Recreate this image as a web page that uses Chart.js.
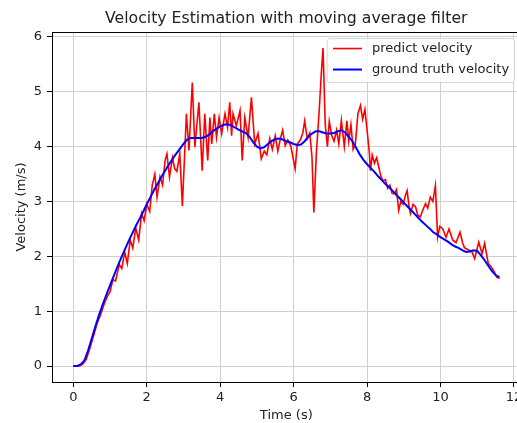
<!DOCTYPE html>
<html>
<head>
<meta charset="utf-8">
<script src="https://cdn.jsdelivr.net/npm/chart.js@4/dist/chart.umd.min.js"></script>
<style>
    html, body { margin: 0; padding: 0; overflow: hidden; background: #fff; }
    #chart { display: block; }
</style>
</head>
<body>
<canvas id="chart" width="530" height="423" style="width:530px;height:423px"></canvas>
<script>
// Ground truth time stamps (s)
var gtTimes = [
    0.0, 0.1, 0.2, 0.3, 0.4, 0.5, 0.6, 0.7, 0.8, 0.9,
    1.0, 1.1, 1.2, 1.3, 1.4, 1.5, 1.6, 1.7, 1.8, 1.9,
    2.0, 2.1, 2.2, 2.3, 2.4, 2.5, 2.6, 2.7, 2.8, 2.9,
    3.0, 3.1, 3.2, 3.3, 3.4, 3.5, 3.6, 3.7, 3.8, 3.9,
    4.0, 4.1, 4.2, 4.3, 4.4, 4.5, 4.6, 4.7, 4.8, 4.9,
    5.0, 5.1, 5.2, 5.3, 5.4, 5.5, 5.6, 5.7, 5.8, 5.9,
    6.0, 6.1, 6.2, 6.3, 6.4, 6.5, 6.6, 6.7, 6.8, 6.9,
    7.0, 7.1, 7.2, 7.3, 7.4, 7.5, 7.6, 7.7, 7.8, 7.9,
    8.0, 8.1, 8.2, 8.3, 8.4, 8.5, 8.6, 8.7, 8.8, 8.9,
    9.0, 9.1, 9.2, 9.3, 9.4, 9.5, 9.6, 9.7, 9.8, 9.9,
    10.0, 10.1, 10.2, 10.3, 10.4, 10.5, 10.6, 10.7, 10.8, 10.9,
    11.0, 11.1, 11.2, 11.3, 11.4, 11.5, 11.6
];

// Ground truth velocity (m/s)
var groundTruth = [
    0.00, 0.00, 0.03, 0.10, 0.28, 0.50, 0.72, 0.93, 1.12, 1.30,
    1.47, 1.64, 1.81, 1.97, 2.12, 2.27, 2.41, 2.55, 2.68, 2.81,
    2.95, 3.08, 3.21, 3.33, 3.45, 3.56, 3.67, 3.77, 3.87, 3.96,
    4.05, 4.13, 4.16, 4.16, 4.16, 4.16, 4.18, 4.22, 4.28, 4.33,
    4.37, 4.40, 4.41, 4.39, 4.35, 4.31, 4.28, 4.25, 4.18, 4.08,
    4.00, 3.97, 3.99, 4.05, 4.10, 4.14, 4.15, 4.13, 4.10, 4.08,
    4.05, 4.03, 4.04, 4.10, 4.18, 4.24, 4.28, 4.28, 4.26, 4.24,
    4.24, 4.25, 4.28, 4.30, 4.26, 4.18, 4.10, 3.98, 3.86, 3.76,
    3.68, 3.61, 3.54, 3.46, 3.39, 3.32, 3.26, 3.19, 3.12, 3.05,
    2.98, 2.91, 2.84, 2.77, 2.70, 2.63, 2.57, 2.51, 2.44, 2.40,
    2.35, 2.31, 2.27, 2.22, 2.18, 2.15, 2.11, 2.08, 2.09, 2.11,
    2.10, 2.02, 1.93, 1.83, 1.73, 1.66, 1.62
];

// Predicted velocity time stamps (s)
var predictTimes = [
    0.00, 0.15, 0.25, 0.35, 0.45, 0.55, 0.65, 0.75, 0.85, 0.95,
    1.00, 1.08, 1.15, 1.25, 1.32, 1.40, 1.47, 1.55, 1.62, 1.70,
    1.78, 1.86, 1.93, 2.00, 2.08, 2.15, 2.22, 2.28, 2.36, 2.43,
    2.50, 2.55, 2.62, 2.70, 2.76, 2.82, 2.90, 2.97, 3.08, 3.15,
    3.24, 3.31, 3.42, 3.51, 3.58, 3.66, 3.72, 3.77, 3.84, 3.90,
    3.97, 4.04, 4.13, 4.20, 4.26, 4.31, 4.35, 4.44, 4.54, 4.60,
    4.67, 4.76, 4.85, 4.94, 5.03, 5.12, 5.20, 5.27, 5.35, 5.42,
    5.50, 5.57, 5.64, 5.70, 5.77, 5.84, 5.92, 6.04, 6.10, 6.18,
    6.25, 6.30, 6.37, 6.44, 6.50, 6.55, 6.62, 6.70, 6.75, 6.80,
    6.86, 6.92, 6.97, 7.04, 7.10, 7.17, 7.23, 7.30, 7.38, 7.45,
    7.50, 7.56, 7.62, 7.68, 7.75, 7.82, 7.88, 7.94, 8.00, 8.06,
    8.09, 8.14, 8.20, 8.26, 8.32, 8.38, 8.43, 8.50, 8.56, 8.62,
    8.68, 8.74, 8.80, 8.86, 8.92, 8.98, 9.04, 9.09, 9.14, 9.18,
    9.25, 9.32, 9.38, 9.45, 9.52, 9.59, 9.65, 9.72, 9.79, 9.86,
    9.92, 9.98, 10.06, 10.15, 10.23, 10.33, 10.42, 10.53, 10.60, 10.65,
    10.75, 10.85, 10.93, 11.04, 11.13, 11.20, 11.30, 11.39, 11.46, 11.53,
    11.62
];

// Predicted velocity (m/s), moving average filter output
var predictVelocity = [
    0.00, 0.00, 0.03, 0.12, 0.32, 0.55, 0.78, 0.95, 1.15, 1.30,
    1.35, 1.58, 1.55, 1.85, 1.78, 2.08, 1.87, 2.30, 2.15, 2.52,
    2.30, 2.78, 2.65, 2.95, 2.82, 3.30, 3.50, 3.08, 3.45, 3.30,
    3.75, 3.87, 3.45, 3.80, 3.60, 3.55, 3.87, 2.92, 4.60, 3.93,
    5.17, 3.99, 4.81, 3.56, 4.60, 3.75, 4.53, 4.05, 4.60, 4.17,
    4.53, 4.24, 4.60, 4.35, 4.81, 4.20, 4.60, 4.38, 4.66, 3.75,
    4.53, 4.17, 4.90, 4.05, 4.24, 3.78, 3.92, 3.85, 4.15, 3.95,
    4.20, 3.92, 4.15, 4.30, 4.02, 4.12, 4.02, 3.60, 4.05, 4.12,
    4.25, 4.47, 4.15, 4.25, 3.80, 2.80, 3.90, 4.70, 5.30, 5.80,
    4.40, 4.00, 4.46, 4.20, 4.10, 4.30, 4.05, 4.48, 4.00, 4.47,
    4.10, 4.40, 3.95, 4.05, 4.60, 4.75, 4.50, 4.68, 4.30, 3.90,
    3.56, 3.85, 3.70, 3.80, 3.62, 3.45, 3.38, 3.40, 3.24, 3.30,
    3.15, 3.14, 3.22, 2.84, 3.00, 2.95, 3.10, 3.20, 2.92, 2.78,
    2.95, 2.90, 2.75, 2.72, 2.85, 2.96, 2.88, 3.08, 3.00, 3.29,
    2.35, 2.55, 2.50, 2.35, 2.50, 2.30, 2.25, 2.44, 2.25, 2.16,
    2.12, 2.09, 1.96, 2.26, 2.05, 2.24, 1.87, 1.80, 1.72, 1.62,
    1.60
];

// Tick labels
var xTicks = [0, 2, 4, 6, 8, 10, 12];
var yTicks = [0, 1, 2, 3, 4, 5, 6];

var fontFamily = '"DejaVu Sans", sans-serif';

function toPoints(xs, ys) {
    return xs.map(function(x, i) { return { x: x, y: ys[i] }; });
}

// Frame around the plot area (matplotlib spines)
var framePlugin = {
    id: 'frame',
    afterDatasetsDraw: function(chart) {
        var ctx = chart.ctx;
        var a = chart.chartArea;
        ctx.save();
        ctx.strokeStyle = '#000';
        ctx.lineWidth = 1;
        ctx.strokeRect(Math.round(a.left) + 0.5, Math.round(a.top) + 0.5,
            Math.round(a.right - a.left), Math.round(a.bottom - a.top));
        ctx.restore();
    }
};

// Legend drawn inside the axes, upper right
var legendPlugin = {
    id: 'innerLegend',
    afterDraw: function(chart) {
        var ctx = chart.ctx;
        var a = chart.chartArea;
        var boxRight = a.right - 6.5;
        var boxLeft = a.right - 194;
        var boxTop = a.top + 6;
        var boxBottom = a.top + 50;
        ctx.save();
        ctx.beginPath();
        if (ctx.roundRect) {
            ctx.roundRect(boxLeft + 0.5, boxTop + 0.5, boxRight - boxLeft, boxBottom - boxTop, 3);
        } else {
            ctx.rect(boxLeft + 0.5, boxTop + 0.5, boxRight - boxLeft, boxBottom - boxTop);
        }
        ctx.fillStyle = 'rgba(255,255,255,0.8)';
        ctx.fill();
        ctx.strokeStyle = 'rgba(204,204,204,0.8)';
        ctx.lineWidth = 1;
        ctx.stroke();

        ctx.font = '13px ' + fontFamily;
        ctx.textBaseline = 'middle';
        ctx.textAlign = 'left';
        chart.data.datasets.forEach(function(ds, i) {
            var y = a.top + 16.5 + i * 21;
            ctx.beginPath();
            ctx.strokeStyle = ds.borderColor;
            ctx.lineWidth = ds.borderWidth;
            ctx.moveTo(a.right - 187.6, y);
            ctx.lineTo(a.right - 158.6, y);
            ctx.stroke();
            ctx.fillStyle = '#222';
            ctx.fillText(ds.label, a.right - 148.6, y);
        });
        ctx.restore();
    }
};

var ctx = document.getElementById('chart').getContext('2d');
new Chart(ctx, {
    type: 'line',
    data: {
        datasets: [{
            label: 'predict velocity',
            data: toPoints(predictTimes, predictVelocity),
            borderColor: '#ff0000',
            borderWidth: 1.6,
            pointRadius: 0,
            tension: 0,
            order: 1
        }, {
            label: 'ground truth velocity',
            data: toPoints(gtTimes, groundTruth),
            borderColor: '#0000ff',
            borderWidth: 2,
            pointRadius: 0,
            tension: 0,
            order: 0
        }]
    },
    options: {
        responsive: false,
        animation: false,
        events: [],
        layout: {
            padding: { left: 0, right: 9.4, top: 0, bottom: 0 }
        },
        plugins: {
            legend: { display: false },
            tooltip: { enabled: false },
            title: {
                display: true,
                fullSize: false,
                text: 'Velocity Estimation with moving average filter',
                color: '#222',
                font: { family: fontFamily, size: 15.7, weight: 'normal' },
                padding: { top: 9.6, bottom: 3.6 }
            }
        },
        scales: {
            x: {
                type: 'linear',
                min: -0.58,
                max: 12.18,
                afterBuildTicks: function(scale) {
                    scale.ticks = xTicks.map(function(v) { return { value: v }; });
                },
                afterFit: function(scale) { scale.height = 41; },
                ticks: {
                    color: '#222',
                    font: { family: fontFamily, size: 13 },
                    padding: 3,
                    maxRotation: 0,
                    autoSkip: false
                },
                grid: {
                    color: '#d0d0d0',
                    lineWidth: 1,
                    tickLength: 5,
                    tickColor: '#000',
                    tickWidth: 1
                },
                border: { display: true, color: '#000', width: 1 },
                title: {
                    display: true,
                    text: 'Time (s)',
                    color: '#222',
                    font: { family: fontFamily, size: 13 },
                    padding: { top: 0, bottom: 0 }
                }
            },
            y: {
                type: 'linear',
                min: -0.29,
                max: 6.09,
                afterBuildTicks: function(scale) {
                    scale.ticks = yTicks.map(function(v) { return { value: v }; });
                },
                afterFit: function(scale) { scale.width = 52; },
                ticks: {
                    color: '#222',
                    font: { family: fontFamily, size: 13 },
                    padding: 5,
                    autoSkip: false
                },
                grid: {
                    color: '#d0d0d0',
                    lineWidth: 1,
                    tickLength: 5,
                    tickColor: '#000',
                    tickWidth: 1
                },
                border: { display: true, color: '#000', width: 1 },
                title: {
                    display: true,
                    text: 'Velocity (m/s)',
                    color: '#222',
                    font: { family: fontFamily, size: 13 },
                    padding: { top: 14, bottom: 0 }
                }
            }
        }
    },
    plugins: [framePlugin, legendPlugin]
});
</script>
</body>
</html>
